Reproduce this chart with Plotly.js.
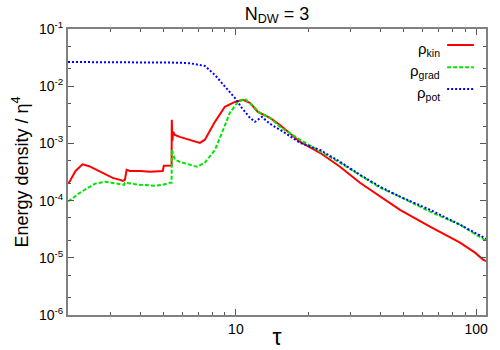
<!DOCTYPE html>
<html>
<head>
<meta charset="utf-8">
<script src="https://cdn.plot.ly/plotly-3.0.1.min.js"></script>
<style>
  html, body { margin: 0; padding: 0; background: #fff; }
  #chart { width: 500px; height: 350px; }
</style>
</head>
<body>
<div id="chart"></div>
<script>
// values (tau, energy density / eta^4)
let tauKin = [2.0, 2.03, 2.15, 2.3, 2.45, 2.71, 2.9, 3.07, 3.29, 3.38, 3.45, 3.51, 3.62, 4.0, 4.38, 4.96, 5.01, 5.36, 5.40, 5.41, 5.44, 5.48, 5.57, 5.84, 6.43, 7.08, 7.43, 8.18, 9.0, 9.9, 10.7, 11.44, 12.35, 13.87, 15.26, 18.48, 22.39, 27.13, 32.86, 39.81, 48.23, 64.31, 85.76, 99.0, 106.9, 110.0];
let rhoKin = [2.0e-4, 2.14e-4, 3.3e-4, 4.3e-4, 4.0e-4, 3.2e-4, 2.8e-4, 2.5e-4, 2.3e-4, 2.2e-4, 2.3e-4, 3.46e-4, 3.3e-4, 3.3e-4, 3.2e-4, 3.3e-4, 4.07e-4, 4.07e-4, 4.1e-4, 2.6e-3, 1.1e-3, 1.6e-3, 1.41e-3, 1.3e-3, 1.16e-3, 1.02e-3, 1.16e-3, 2.38e-3, 4.36e-3, 5.3e-3, 5.77e-3, 5.1e-3, 3.56e-3, 2.8e-3, 2.1e-3, 1.07e-3, 6.85e-4, 3.9e-4, 2.05e-4, 1.17e-4, 6.9e-5, 3.5e-5, 1.84e-5, 1.23e-5, 9.3e-6, 8.8e-6];

let tauGrad = [2.0, 2.03, 2.24, 2.45, 2.59, 2.85, 3.29, 3.42, 3.45, 3.98, 4.6, 4.96, 5.31, 5.40, 5.41, 5.57, 5.84, 6.43, 6.88, 7.43, 8.18, 8.75, 9.44, 10.19, 10.9, 11.66, 12.59, 13.87, 15.26, 18.48, 27.13, 39.81, 48.23, 64.31, 85.76, 110.0];
let rhoGrad = [9.8e-5, 1.0e-4, 1.37e-4, 1.75e-4, 1.97e-4, 2.14e-4, 1.97e-4, 1.89e-4, 2.05e-4, 1.89e-4, 1.82e-4, 1.89e-4, 2.05e-4, 2.05e-4, 7.7e-4, 5.2e-4, 4.77e-4, 4.23e-4, 3.9e-4, 4.6e-4, 7.7e-4, 1.53e-3, 3.42e-3, 5.3e-3, 6.0e-3, 4.72e-3, 3.42e-3, 2.8e-3, 1.95e-3, 1.16e-3, 4.6e-4, 1.68e-4, 1.17e-4, 6.4e-5, 3.79e-5, 1.98e-5];

let tauPot = [2.0, 3.0, 4.0, 5.0, 5.84, 6.43, 6.75, 7.43, 8.18, 9.0, 9.9, 10.59, 11.44, 12.0, 12.83, 13.87, 16.0, 18.48, 22.39, 27.13, 32.86, 39.81, 48.23, 64.31, 85.76, 110.0];
let rhoPot = [0.0265, 0.0265, 0.0265, 0.0264, 0.0258, 0.0252, 0.0245, 0.0226, 0.0157, 0.0097, 6.25e-3, 4.18e-3, 2.8e-3, 2.38e-3, 2.91e-3, 2.2e-3, 1.53e-3, 1.02e-3, 7.7e-4, 4.77e-4, 2.83e-4, 1.75e-4, 1.17e-4, 6.9e-5, 3.79e-5, 2.15e-5];

let seriesNames = ["ρ<sub>kin</sub>", "ρ<sub>grad</sub>", "ρ<sub>pot</sub>"];
let seriesColors = ["#ff0000", "#00e600", "#0000ff"];
let seriesDash = ["solid", "4px,2px", "2px,2px"];

let yTickVals = [1e-6, 1e-5, 1e-4, 1e-3, 1e-2, 1e-1];
let yTickText = ["10<sup>-6</sup>", "10<sup>-5</sup>", "10<sup>-4</sup>", "10<sup>-3</sup>", "10<sup>-2</sup>", "10<sup>-1</sup>"];
let xTickVals = [10, 100];
let xTickText = ["10", "100"];

let yMinor = [];
for (let d = -6; d < -1; d++) {
    yMinor.push(2 * Math.pow(10, d), 5 * Math.pow(10, d));
}
let xMinor = [];
for (let k = 2; k < 10; k++) {
    xMinor.push(k, k * 10);
}

let xs = [tauKin, tauGrad, tauPot];
let ys = [rhoKin, rhoGrad, rhoPot];
let traces = [];
for (let i = 0; i < 3; i++) {
    traces.push({
        x: xs[i], y: ys[i],
        mode: 'lines', name: seriesNames[i], showlegend: false,
        line: {color: seriesColors[i], width: 2, dash: seriesDash[i]}
    });
}

// legend drawn gnuplot-style: text on the left, sample line on the right
let annotations = [];
let shapes = [];
let legY = [0.944, 0.866, 0.790];
for (let i = 0; i < 3; i++) {
    annotations.push({
        xref: 'paper', yref: 'paper', x: 0.895, y: legY[i] - 0.014,
        xanchor: 'right', yanchor: 'middle', showarrow: false,
        text: seriesNames[i],
        font: {family: 'Liberation Sans, Arial, sans-serif', size: 15, color: '#000'}
    });
    shapes.push({
        type: 'line', xref: 'paper', yref: 'paper',
        x0: 0.907, x1: 0.971, y0: legY[i], y1: legY[i],
        line: {color: seriesColors[i], width: 2, dash: seriesDash[i]}
    });
}

let layout = {
    width: 500, height: 350,
    paper_bgcolor: '#fff', plot_bgcolor: '#fff',
    margin: {l: 68, r: 14, t: 29, b: 35, pad: 0},
    font: {family: 'Liberation Sans, Arial, sans-serif', size: 14, color: '#000'},
    title: {
        text: 'N<sub>DW</sub> = 3',
        font: {size: 18},
        x: 0.554, xanchor: 'center', y: 0.962, yanchor: 'middle'
    },
    xaxis: {
        type: 'log',
        range: [Math.log10(2.0), Math.log10(110)],
        tickmode: 'array', tickvals: xTickVals, ticktext: xTickText,
        ticks: 'inside', ticklen: 6, tickwidth: 1, tickcolor: '#555',
        minor: {tickmode: 'array', tickvals: xMinor, ticks: 'inside', ticklen: 3, tickcolor: '#555'},
        showline: true, linecolor: '#808080', linewidth: 2, mirror: 'allticks',
        showgrid: false, zeroline: false,
        tickfont: {size: 14},
        title: {text: 'τ', font: {size: 23}, standoff: 2}
    },
    yaxis: {
        type: 'log',
        range: [-6, -1],
        tickmode: 'array', tickvals: yTickVals, ticktext: yTickText,
        ticks: 'inside', ticklen: 6, tickwidth: 1, tickcolor: '#555',
        minor: {tickmode: 'array', tickvals: yMinor, ticks: 'inside', ticklen: 3, tickcolor: '#555'},
        showline: true, linecolor: '#808080', linewidth: 2, mirror: 'allticks',
        showgrid: false, zeroline: false,
        tickfont: {size: 14},
        title: {text: 'Energy density / η<sup>4</sup>', font: {size: 18}, standoff: 6}
    },
    annotations: annotations,
    shapes: shapes
};

Plotly.newPlot('chart', traces, layout, {staticPlot: true});
</script>
</body>
</html>
